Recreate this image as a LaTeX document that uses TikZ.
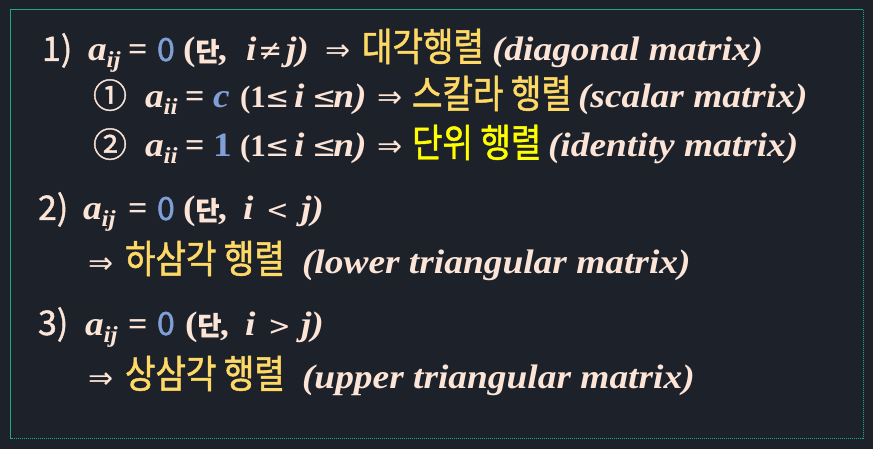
\documentclass[tikz,border=0pt]{standalone}
\usepackage{fontspec}
\setmainfont{Liberation Serif}
\newfontfamily\ser{Liberation Serif}[FakeStretch=1.1]
\newfontfamily\kr{Noto Sans CJK KR}[FakeStretch=0.85,FakeBold=1.2]
\newfontfamily\krl{Noto Sans CJK KR}[FakeBold=1.2]
\newfontfamily\symf{DejaVu Sans}
\definecolor{bg}{HTML}{1D222A}
\definecolor{cream}{HTML}{FCE4D6}
\definecolor{gold}{HTML}{FFD966}
\definecolor{yel}{HTML}{FFFF00}
\definecolor{blu}{HTML}{7F9FD6}
\definecolor{tealc}{HTML}{20A586}
\newcommand\subs[1]{\raisebox{-7pt}{\fontsize{23}{23}\selectfont\ser\bfseries\itshape #1}}
\newcommand\mi[1]{{\ser\bfseries\itshape #1}}
\newcommand\mbig[1]{{\ser\bfseries\itshape\fontsize{34}{40}\selectfont #1}}
\newcommand\hkr[1]{{\krl\fontsize{26}{30}\selectfont #1}}
\tikzset{
  tk/.style={anchor=base west, inner sep=0pt, outer sep=0pt, text=cream, font=\ser\bfseries\fontsize{34}{40}\selectfont},
  tks/.style={tk, font=\bfseries\fontsize{31}{40}\selectfont},
  bigrel/.style={tk, font=\symf\fontsize{29}{40}\selectfont},
  cmp/.style={tk, font=\symf\fontsize{27}{40}\selectfont},
  eng/.style={tk, font=\ser\bfseries\itshape\fontsize{34}{40}\selectfont},
  eqs/.style={tk, font=\bfseries\fontsize{34}{40}\selectfont},
  num/.style={tk, text=blu, font=\krl\fontsize{32}{40}\selectfont},
  lab/.style={tk, font=\krl\fontsize{34}{40}\selectfont},
  arr/.style={tk, font=\symf\fontsize{30}{40}\selectfont},
  kor/.style={tk, text=gold, font=\kr\fontsize{39}{40}\selectfont},
  kory/.style={kor, text=yel},
  boxframe/.style={draw=tealc, line width=0.8pt, dash pattern=on 1.2pt off 0.8pt},
}
\begin{document}
\begin{tikzpicture}[x=1pt,y=-1pt]
\useasboundingbox[fill=bg] (0,0) rectangle (873,449);
\draw[boxframe] (10.5,9.5) rectangle (863,438);
% line 1
\node[lab] (n1) at (42,61) {1)};
\node[eng] (a1) at (88,61) {a\subs{ij}};
\node[eqs] (e1) at (128,61) {=};
\node[num] (z1) at (157,61) {0};
\node[tk] (p1) at (183,61) {(\hkr{단}\mi{,}};
\node[eng] (i1) at (246,61) {i};
\node[bigrel] (r1) at (258,61) {≠};
\node[eng] (j1) at (286,61) {j)};
\node[arr] (t1) at (325,61) {⇒};
\node[kor] (k1) at (362,61) {대각행렬};
\node[eng] (w1) at (492,61) {(diagonal matrix)};
% line 2
\node[lab] (c2) at (93,108) {①};
\node[eng] (a2) at (145,108) {a\subs{ii}};
\node[eqs] (e2) at (185,108) {=};
\node[eng, text=blu] (v2) at (213,108) {c};
\node[tks] (o2) at (240,108) {(1};
\node[bigrel] (l2) at (265,108) {≤};
\node[eng] (i2) at (294,108) {i};
\node[bigrel] (m2) at (312,108) {≤\kern-3pt\mbig{n)}};
\node[arr] (t2) at (377,108) {⇒};
\node[kor] (k2) at (412,108) {스칼라 행렬};
\node[eng] (w2) at (578,108) {(scalar matrix)};
% line 3
\node[lab] (c3) at (93,157) {②};
\node[eng] (a3) at (145,157) {a\subs{ii}};
\node[eqs] (e3) at (185,157) {=};
\node[tk, text=blu] (v3) at (213,157) {1};
\node[tks] (o3) at (240,157) {(1};
\node[bigrel] (l3) at (265,157) {≤};
\node[eng] (i3) at (294,157) {i};
\node[bigrel] (m3) at (312,157) {≤\kern-3pt\mbig{n)}};
\node[arr] (t3) at (377,157) {⇒};
\node[kory] (k3) at (412,157) {단위 행렬};
\node[eng] (w3) at (548,157) {(identity matrix)};
% line 4
\node[lab] (n4) at (38,220) {2)};
\node[eng] (a4) at (83,220) {a\subs{ij}};
\node[eqs] (e4) at (128,220) {=};
\node[num] (z4) at (157,220) {0};
\node[tk] (p4) at (183,220) {(\hkr{단}\mi{,}};
\node[eng] (i4) at (243,220) {i};
\node[cmp] (r4) at (266,220) {<};
\node[eng] (j4) at (301,220) {j)};
% line 5
\node[arr] (t5) at (88,273) {⇒};
\node[kor] (k5) at (125,273) {하삼각 행렬};
\node[eng] (w5) at (302,273) {(lower triangular matrix)};
% line 6
\node[lab] (n6) at (38,335) {3)};
\node[eng] (a6) at (85,335) {a\subs{ij}};
\node[eqs] (e6) at (128,335) {=};
\node[num] (z6) at (157,335) {0};
\node[tk] (p6) at (185,335) {(\hkr{단}\mi{,}};
\node[eng] (i6) at (245,335) {i};
\node[cmp] (r6) at (268,335) {>};
\node[eng] (j6) at (301,335) {j)};
% line 7
\node[arr] (t7) at (88,388) {⇒};
\node[kor] (k7) at (125,388) {상삼각 행렬};
\node[eng] (w7) at (302,388) {(upper triangular matrix)};
\end{tikzpicture}
\end{document}
